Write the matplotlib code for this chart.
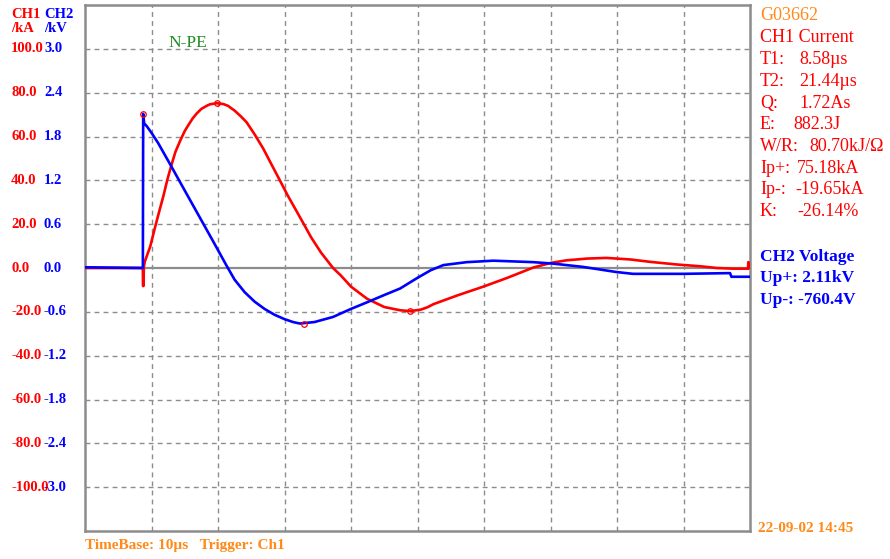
"""
Oscilograma de impulso: corriente CH1 (kA) y tensión CH2 (kV).
"""

import matplotlib
matplotlib.use("Agg")
import matplotlib.pyplot as plt
from matplotlib.transforms import blended_transform_factory

# Datos (tiempo en µs)
t_current = [0.0, 8.7, 8.72, 8.8, 8.85, 9.0, 9.8, 10.4, 11.0, 11.8, 12.4,
             13.0, 13.6, 14.3, 15.0, 15.5, 16.2, 16.8, 17.5, 18.3, 18.8,
             19.8, 20.8, 21.5, 22.5, 23.4, 24.3, 25.5, 26.8, 28.0, 29.3,
             30.5, 31.8, 33.0, 34.0, 35.5, 37.3, 38.5, 40.0, 42.4, 45.0,
             47.4, 48.9, 50.5, 51.5, 52.4, 56.0, 59.9, 63.5, 67.4, 70.0,
             72.4, 75.5, 78.4, 82.0, 85.0, 89.0, 92.5, 95.0, 97.4, 99.7,
             99.75, 99.8]
current_ka = [0.0, 0.0, -8.2, -8.2, 0.5, 3.0, 9.7, 17.0, 24.0, 33.0, 40.5,
              47.0, 53.0, 58.0, 62.5, 65.0, 68.3, 70.5, 72.6, 74.0, 74.7,
              75.18, 74.8, 74.0, 71.8, 69.3, 66.5, 61.0, 54.5, 47.5, 40.0,
              33.0, 26.0, 19.5, 14.0, 7.0, 0.0, -3.5, -8.5, -14.0, -17.8,
              -19.3, -19.65, -19.0, -17.9, -16.5, -12.5, -8.5, -4.5, 0.2, 2.3,
              3.5, 4.3, 4.6, 3.9, 2.8, 1.6, 0.8, 0.0, -0.3, -0.3,
              2.7, 0.0]

t_voltage = [0.0, 8.7, 8.75, 8.9, 9.3, 10.0, 11.0, 12.8, 15.8, 19.3, 21.3,
             22.5, 24.0, 25.5, 27.0, 28.5, 30.0, 31.3, 32.3, 34.5, 37.3,
             40.0, 42.4, 45.0, 47.4, 49.9, 52.0, 53.9, 57.4, 61.4, 64.5,
             67.4, 70.4, 74.9, 79.9, 82.4, 90.0, 97.0, 97.2, 99.8]
voltage_kv = [0.01, 0.0, 2.11, 1.98, 1.94, 1.85, 1.71, 1.42, 0.93, 0.36, 0.03,
              -0.16, -0.33, -0.46, -0.56, -0.64, -0.70, -0.74, -0.76, -0.74, -0.67,
              -0.56, -0.47, -0.37, -0.28, -0.14, -0.03, 0.04, 0.08, 0.10, 0.09,
              0.08, 0.06, 0.015, -0.055, -0.08, -0.08, -0.07, -0.12, -0.12]

# Marcadores de picos
peak_current_t = [19.8, 48.9]
peak_current_v = [75.18, -19.65]
peak_voltage_t = [8.77, 32.9]
peak_voltage_v = [2.11, -0.76]

ch1_ticks = [100, 80, 60, 40, 20, 0, -20, -40, -60, -80, -100]
ch2_ticks = [3.0, 2.4, 1.8, 1.2, 0.6, 0.0, -0.6, -1.2, -1.8, -2.4, -3.0]

ch1_info = [("CH1 Current", ""), ("T1:", "8.58µs"), ("T2:", "21.44µs"),
            ("Q:", "1.72As"), ("E:", "882.3J"), ("W/R:", "80.70kJ/Ω"),
            ("Ip+:", "75.18kA"), ("Ip-:", "-19.65kA"), ("K:", "-26.14%")]
ch1_value_x = [0, 799, 799, 799, 793, 809, 797, 795, 797]
ch2_info = ["CH2 Voltage", "Up+: 2.11kV", "Up-: -760.4V"]

RED = "#ff0000"
BLUE = "#0000ff"
ORANGE = "#ff8a1a"
GRID = "#8c8c8c"
FONT = ["Liberation Serif", "DejaVu Serif"]

W, H = 890, 559
fig = plt.figure(figsize=(W / 100, H / 100), dpi=100)
ax = fig.add_axes([85 / W, 1 - 531 / H, 665 / W, 526 / H])

# Rejilla discontinua
for x in range(10, 100, 10):
    ax.axvline(x, color=GRID, lw=1.0, ls=(0, (3.5, 3)), zorder=1)
for y in ch1_ticks:
    if y == 0:
        ax.axhline(0, color=GRID, lw=1.6, zorder=1)
    else:
        ax.axhline(y, color=GRID, lw=1.0, ls=(0, (3.5, 3)), zorder=1)

ax.set_xlim(0, 100)
ax.set_ylim(-120, 120)
ax.set_xticks([])
ax.set_yticks([])
for s in ax.spines.values():
    s.set_color(GRID)
    s.set_linewidth(1.8)

ax2 = ax.twinx()
ax2.set_ylim(-3.6, 3.6)
ax2.axis("off")

# Curvas
ax.plot(t_current, current_ka, color=RED, lw=1.9, zorder=3,
        solid_joinstyle="round")
ax2.plot(t_voltage, voltage_kv, color=BLUE, lw=1.9, zorder=4,
         solid_joinstyle="round")
ax.plot(peak_current_t, peak_current_v, "o", mfc="none", mec=RED,
        ms=4, mew=0.9, zorder=5)
ax2.plot(peak_voltage_t, peak_voltage_v, "o", mfc="none", mec=RED,
         ms=4, mew=0.9, zorder=5)

# Etiquetas de los ejes
tr1 = blended_transform_factory(ax.transAxes, ax.transData)
for v in ch1_ticks:
    ax.text(-0.111, v, f"{v:.1f}", transform=tr1, color=RED, fontsize=10.5,
            fontweight="bold", family=FONT, ha="left", va="center")
tr2 = blended_transform_factory(ax2.transAxes, ax2.transData)
for v in ch2_ticks:
    ax2.text(-0.0617, v, f"{v:.1f}", transform=tr2, color=BLUE, fontsize=10.5,
             fontweight="bold", family=FONT, ha="left", va="center")

fig.text(11 / W, 1 - 21 / H, "CH1\n/kA", color=RED, fontsize=10.5,
         fontweight="bold", family=FONT, ha="left", va="center", linespacing=1.1)
fig.text(44 / W, 1 - 21 / H, "CH2\n/kV", color=BLUE, fontsize=10.5,
         fontweight="bold", family=FONT, ha="left", va="center", linespacing=1.1)

fig.text(168 / W, 1 - 43 / H, "N-PE", color="#228b22", fontsize=12.5,
         family=FONT, ha="left", va="center")

# Panel de resultados
fig.text(760 / W, 1 - 16 / H, "G03662", color=ORANGE, fontsize=13,
         family=FONT, ha="left", va="center")
for i, (lab, val) in enumerate(ch1_info):
    y = 1 - (38 + 21.7 * i) / H
    fig.text(760 / W, y, lab, color=RED, fontsize=13, family=FONT,
             ha="left", va="center")
    if val:
        fig.text(ch1_value_x[i] / W, y, val, color=RED, fontsize=13,
                 family=FONT, ha="left", va="center")
for i, lab in enumerate(ch2_info):
    y = 1 - (257 + 21.3 * i) / H
    fig.text(760 / W, y, lab, color=BLUE, fontsize=12.5, fontweight="bold",
             family=FONT, ha="left", va="center")

fig.text(758 / W, 1 - 529 / H, "22-09-02 14:45", color=ORANGE, fontsize=11,
         fontweight="bold", family=FONT, ha="left", va="center")
fig.text(85 / W, 1 - 545 / H, "TimeBase: 10µs   Trigger: Ch1", color=ORANGE,
         fontsize=11, fontweight="bold", family=FONT, ha="left", va="center")

fig.savefig("out.png", dpi=100)
